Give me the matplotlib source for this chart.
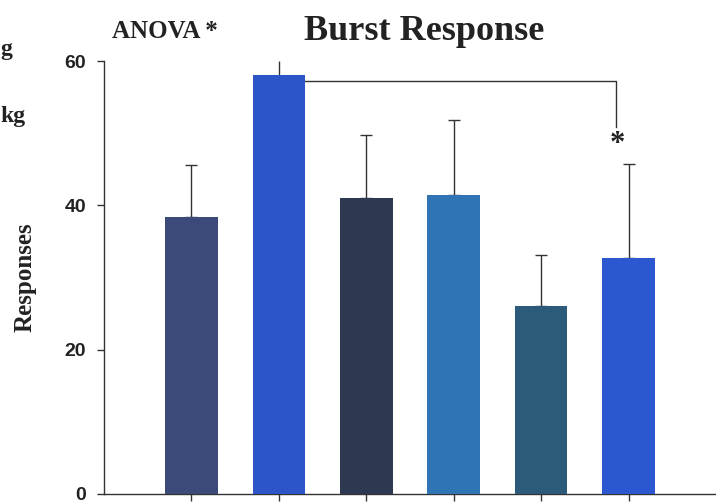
import matplotlib.pyplot as plt
import numpy as np

# Burst response per treatment group (mean and upper SD)
groups = ["G1", "G2", "G3", "G4", "G5", "G6"]
means = [38.4, 58.0, 41.0, 41.4, 26.0, 32.7]
sds = [7.2, 2.0, 8.8, 10.4, 7.1, 13.0]
bar_colors = ["#3b4a78", "#2c55c8", "#2e3850", "#2f75b5", "#2c5a7a", "#2b57d0"]
y_ticks = [0, 20, 40, 60]

serif = ["Liberation Serif", "DejaVu Serif"]
sans = ["Liberation Sans", "DejaVu Sans"]
line_col = "#333333"

fig = plt.figure(figsize=(7.16, 5.04), dpi=100)
ax = fig.add_axes([104 / 716, 10 / 504, 612 / 716, 433 / 504])

x = np.arange(len(groups))
ax.bar(x, means, width=0.6, color=bar_colors, zorder=3)

for xi, m, s in zip(x, means, sds):
    cap = 0 if m + s >= 59 else 4
    ax.errorbar(xi, m, yerr=[[0], [s]], fmt="none", ecolor=line_col,
                elinewidth=1.0, capsize=cap, capthick=1.0, zorder=2, clip_on=False)

# significance bracket between group 2 and group 6
bx0, bx1 = 1.3, 4.86
by, by_low = 57.2, 50.8
ax.plot([bx0, bx1, bx1], [by, by, by_low], color=line_col, lw=1.0, zorder=2)
ax.text(bx1 + 0.01, 48.4, "*", fontsize=22, fontweight="bold", family=serif,
        ha="center", va="center", color="#222222")

ax.set_xlim(-1.0, 6.0)
ax.set_ylim(0, 60)
ax.set_xticks(x)
ax.set_xticklabels([])
ax.set_yticks(y_ticks)
ax.set_yticklabels([str(t) for t in y_ticks], fontsize=14, fontweight="bold",
                   family=sans, color="#222222")
ax.tick_params(axis="both", direction="out", length=5, width=1.0, color=line_col)
ax.tick_params(axis="y", pad=8)

for side in ["top", "right"]:
    ax.spines[side].set_visible(False)
for side in ["left", "bottom"]:
    ax.spines[side].set_color(line_col)
    ax.spines[side].set_linewidth(1.0)

ax.set_ylabel("Responses", fontsize=18, fontweight="bold", family=serif, color="#222222")
ax.yaxis.set_label_coords(-0.111, 0.5)

fig.text(424 / 716, 1 - 31 / 504, "Burst Response", fontsize=26, fontweight="bold",
         family=serif, ha="center", va="center", color="#222222")
fig.text(165 / 716, 1 - 31 / 504, "ANOVA *", fontsize=18, fontweight="bold",
         family=serif, ha="center", va="center", color="#222222")

# tail of the dose labels at the left edge
fig.text(0, 1 - 55 / 504, "g", fontsize=17, fontweight="bold",
         family=serif, ha="left", va="baseline", color="#222222")
fig.text(0, 1 - 122 / 504, "kg", fontsize=17, fontweight="bold",
         family=serif, ha="left", va="baseline", color="#222222")

fig.savefig("out.png", dpi=100)
